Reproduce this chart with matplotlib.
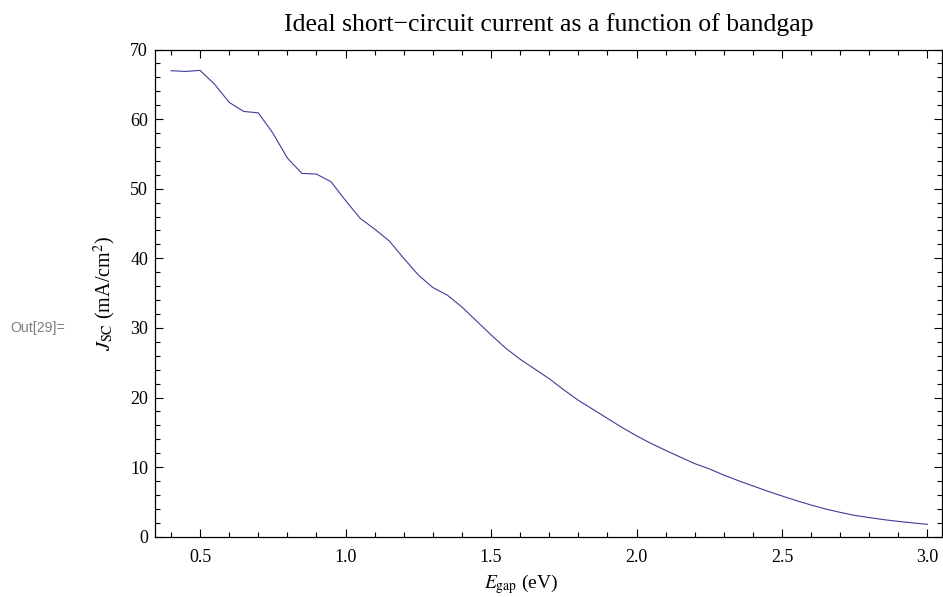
import matplotlib
matplotlib.use("Agg")
import matplotlib.pyplot as plt
from matplotlib.ticker import MultipleLocator, FormatStrFormatter

plt.rcParams['font.family'] = ['Liberation Serif', 'DejaVu Serif']
plt.rcParams['mathtext.fontset'] = 'stix'

# Data (bandgap in eV, Jsc in mA/cm^2)
egap = [0.40, 0.45, 0.50, 0.55, 0.60, 0.65, 0.70, 0.75, 0.80, 0.85,
        0.90, 0.95, 1.00, 1.05, 1.10, 1.15, 1.20, 1.25, 1.30, 1.35,
        1.40, 1.45, 1.50, 1.55, 1.60, 1.65, 1.70, 1.75, 1.80, 1.85,
        1.90, 1.95, 2.00, 2.05, 2.10, 2.15, 2.20, 2.25, 2.30, 2.35,
        2.40, 2.45, 2.50, 2.55, 2.60, 2.65, 2.70, 2.75, 2.80, 2.85,
        2.90, 2.95, 3.00]
jsc = [66.95, 66.85, 67.0, 65.0, 62.4, 61.1, 60.9, 58.0, 54.4, 52.2,
       52.1, 51.0, 48.3, 45.75, 44.2, 42.5, 40.0, 37.6, 35.8, 34.7,
       33.0, 31.0, 29.0, 27.1, 25.5, 24.1, 22.7, 21.1, 19.6, 18.3,
       17.0, 15.7, 14.5, 13.4, 12.4, 11.45, 10.5, 9.75, 8.85, 8.05,
       7.3, 6.55, 5.85, 5.18, 4.55, 3.98, 3.5, 3.06, 2.75, 2.45,
       2.2, 1.98, 1.78]

title = "Ideal short\u2212circuit current as a function of bandgap"
xlabel = r"$E_{\rm gap}$ (eV)"
ylabel = r"$J_{\rm SC}$ (mA/cm$^2$)"

fig = plt.figure(figsize=(9.43, 5.97), dpi=100)
ax = fig.add_axes([155/943, 1-536.7/597, (942-155)/943, (536.7-49.5)/597])

ax.plot(egap, jsc, color='#3d3d99', lw=0.8)

ax.set_xlim(0.345, 3.05)
ax.set_ylim(0, 70)
ax.xaxis.set_major_locator(MultipleLocator(0.5))
ax.xaxis.set_minor_locator(MultipleLocator(0.1))
ax.yaxis.set_major_locator(MultipleLocator(10))
ax.yaxis.set_minor_locator(MultipleLocator(2))
ax.xaxis.set_major_formatter(FormatStrFormatter('%.1f'))

ax.tick_params(which='both', direction='in', top=True, right=True,
               labeltop=False, labelright=False, colors='black',
               labelsize=13, width=0.8)
ax.tick_params(which='major', length=6)
ax.tick_params(which='minor', length=3.6)
ax.tick_params(axis='x', which='major', pad=9)
ax.tick_params(axis='y', which='major', pad=5)
for s in ax.spines.values():
    s.set_linewidth(0.9)

ax.set_title(title, fontsize=18.5, pad=13.5)
ax.set_xlabel(xlabel, fontsize=14)
ax.set_ylabel(ylabel, fontsize=14.5)
ax.xaxis.set_label_coords((521-155)/787, -0.073)
ax.yaxis.set_label_coords((118-155)/787, 0.5)

fig.text(10/943, 1-328/597, "Out[29]=", fontsize=10.2, color='#7f7f7f',
         family=['Liberation Sans', 'DejaVu Sans'], va='center', ha='left')

fig.savefig("out.png", dpi=100)
